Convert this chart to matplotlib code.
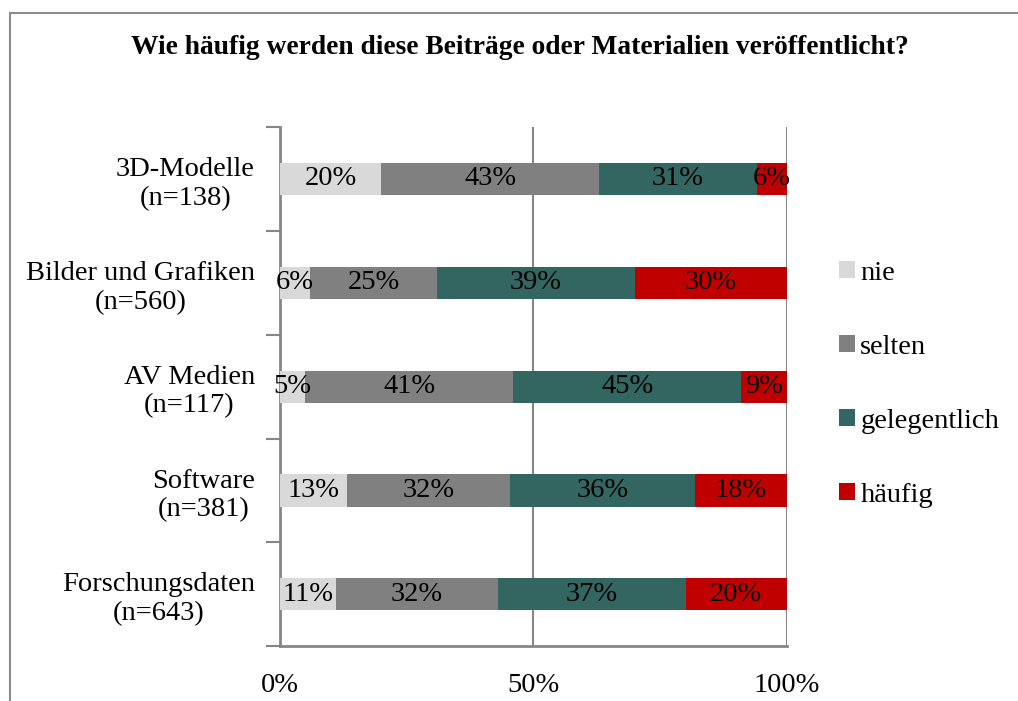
import matplotlib.pyplot as plt
from matplotlib.patches import Rectangle
import numpy as np

# Data
categories = ["3D-Modelle\n(n=138)", "Bilder und Grafiken\n(n=560)", "AV Medien\n(n=117)",
              "Software\n(n=381)", "Forschungsdaten\n(n=643)"]
series = ["nie", "selten", "gelegentlich", "häufig"]
nie = [20, 6, 5, 13, 11]
selten = [43, 25, 41, 32, 32]
gelegentlich = [31, 39, 45, 36, 37]
haeufig = [6, 30, 9, 18, 20]
colors = ["#d9d9d9", "#808080", "#336561", "#c00000"]
xticks = [0, 0.5, 1.0]
xticklabels = ["0%", "50%", "100%"]

plt.rcParams['font.family'] = ['Liberation Serif', 'DejaVu Serif']

values = np.array([nie, selten, gelegentlich, haeufig], dtype=float)
shares = values / values.sum(axis=0)  # 100% stacked

fig = plt.figure(figsize=(10.18, 7.01), dpi=100)
ax = fig.add_axes([0.2750, 0.0780, 0.4981, 0.7408])

# outer chart border (cut off on right and bottom like the original)
fig.add_artist(Rectangle((10 / 1018, -0.05), 1.1, 1 - 13 / 701 + 0.05,
                         transform=fig.transFigure, fill=False,
                         edgecolor="#8c8c8c", linewidth=1.5, zorder=-1))

y = np.arange(len(categories))
left = np.zeros(len(categories))
for i, name in enumerate(series):
    ax.barh(y, shares[i], left=left, height=0.31, color=colors[i], label=name, zorder=3)
    for j in range(len(categories)):
        ax.text(left[j] + shares[i][j] / 2, y[j], f"{int(values[i][j])}%",
                ha="center", va="center", fontsize=20.5, color="black", zorder=4)
    left += shares[i]

ax.set_xlim(0, 1)
ax.set_ylim(len(categories) - 0.5, -0.5)
ax.set_xticks(xticks)
ax.set_xticklabels(xticklabels, fontsize=20.5)
ax.tick_params(axis="x", length=0, pad=19)
ax.set_yticks(y)
ax.set_yticklabels(categories, fontsize=20.5, multialignment="center")
ax.tick_params(axis="y", which="major", length=0, pad=18)
ax.set_yticks(np.arange(-0.5, len(categories)), minor=True)
ax.tick_params(axis="y", which="minor", length=10, width=1.5, color="#868686")

for s in ["top", "right"]:
    ax.spines[s].set_visible(False)
for s in ["left", "bottom"]:
    ax.spines[s].set_color("#868686")
    ax.spines[s].set_linewidth(2)
ax.grid(axis="x", color="#868686", linewidth=1.5, zorder=0)

fig.text(0.511, 0.932, "Wie häufig werden diese Beiträge oder Materialien veröffentlicht?",
         ha="center", va="center", fontsize=19.8, fontweight="bold")

ax.legend(loc="center left", bbox_to_anchor=(1.052, 0.505), frameon=False, fontsize=20.5,
          handlelength=0.55, handleheight=0.55, handletextpad=0.2, labelspacing=1.72)

fig.savefig("out.png", dpi=100)
